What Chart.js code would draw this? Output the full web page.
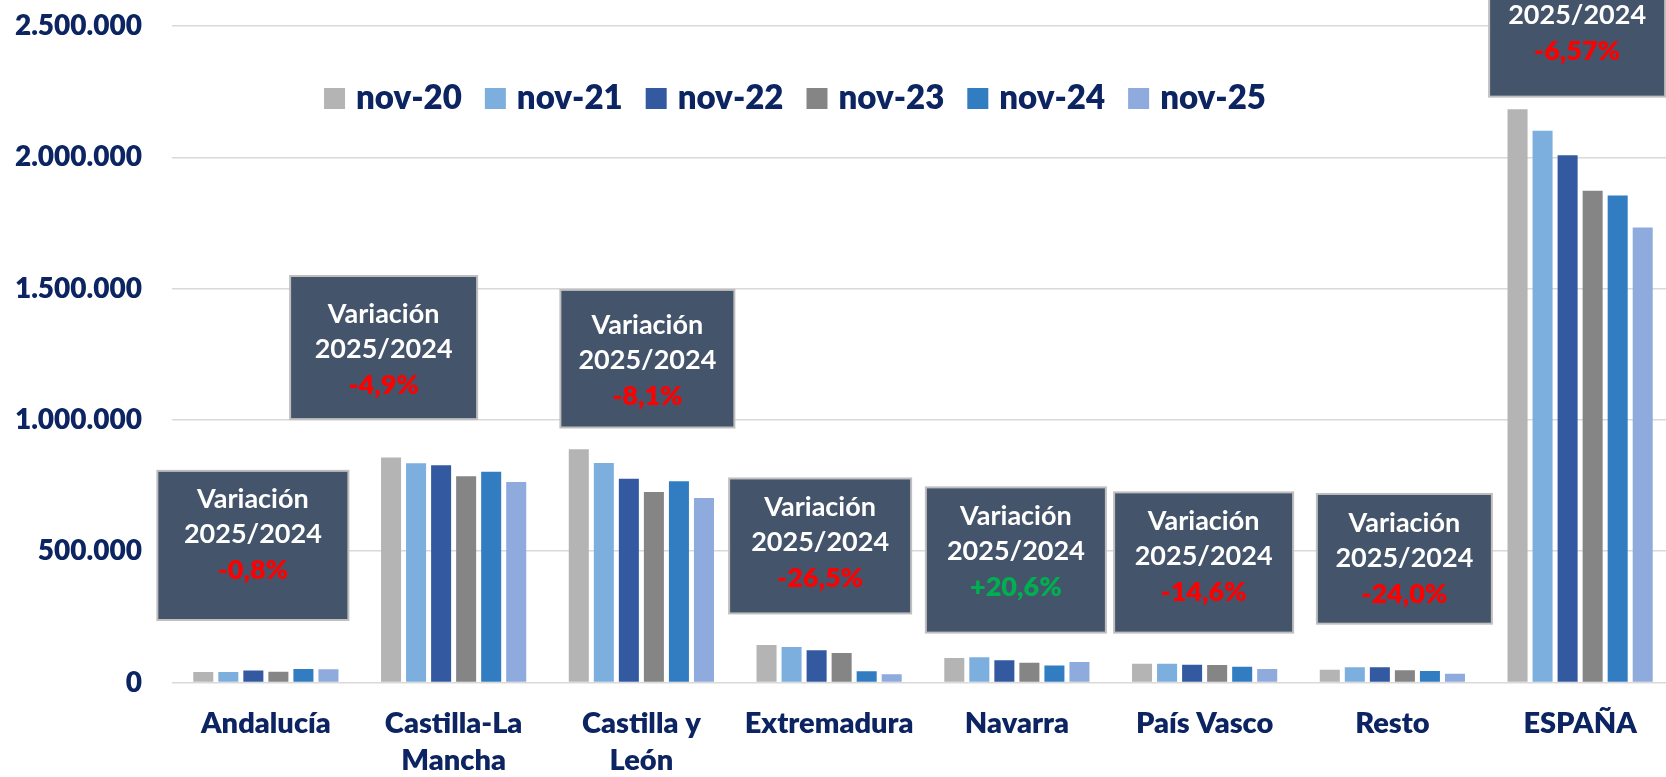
<!DOCTYPE html>
<html>
<head>
<meta charset="utf-8">
<script src="https://cdn.jsdelivr.net/npm/chart.js@4.4.1/dist/chart.umd.min.js"></script>
<style>
  html, body { margin: 0; padding: 0; background: #fff; overflow: hidden; }
  #wrap { width: 1674px; height: 777px; position: relative; }
</style>
</head>
<body>
<div id="wrap"><canvas id="chart"></canvas></div>
<script>
// categories and series
const categories = [
  ["Andalucía"], ["Castilla-La", "Mancha"], ["Castilla y", "León"], ["Extremadura"],
  ["Navarra"], ["País Vasco"], ["Resto"], ["ESPAÑA"]
];
const seriesLabels = ["nov-20", "nov-21", "nov-22", "nov-23", "nov-24", "nov-25"];
const nov20 = [40000, 857000, 888000, 143000, 93000, 71500, 49000, 2183000];
const nov21 = [40000, 835000, 836000, 135000, 96000, 71000, 58000, 2101000];
const nov22 = [46000, 827000, 776000, 122500, 84500, 68000, 58000, 2008000];
const nov23 = [41000, 785000, 725000, 112000, 75000, 66500, 46500, 1873000];
const nov24 = [51000, 803000, 766000, 42500, 64500, 60000, 44000, 1855000];
const nov25 = [50500, 763500, 703000, 31000, 78000, 51500, 33500, 1733000];
const variations = ["-0,8%", "-4,9%", "-8,1%", "-26,5%", "+20,6%", "-14,6%", "-24,0%", "-6,57%"];
const yTicks = [0, 500000, 1000000, 1500000, 2000000, 2500000];

const colors = ["#B4B4B4", "#7DAFDE", "#335AA1", "#858585", "#327DC2", "#8FAADC"];
const navy = "#0C2461";
const heavy = "800";

// box layout: dx px from category centre, top / bottom in axis units, width px, first text line offset
const boxLayout = [
  { dx: -13, top: 806000, bottom: 238000, w: 191, t: 28 },
  { dx: -70, top: 1548000, bottom: 1003000, w: 187, t: 38 },
  { dx: 6, top: 1495000, bottom: 971000, w: 174, t: 35 },
  { dx: -9, top: 777000, bottom: 263000, w: 182, t: 29 },
  { dx: -1, top: 743000, bottom: 190000, w: 180, t: 29 },
  { dx: -1, top: 724000, bottom: 190000, w: 179, t: 29 },
  { dx: 12, top: 718000, bottom: 224000, w: 175, t: 29 },
  { dx: -3, top: 2786000, bottom: 2231000, w: 176, t: 29 }
];

function fmt(v) {
  return String(v).replace(/\B(?=(\d{3})+(?!\d))/g, ".");
}

const boxesPlugin = {
  id: "boxes",
  afterDatasetsDraw(chart) {
    const ctx = chart.ctx;
    const x = chart.scales.x, y = chart.scales.y;
    ctx.save();
    boxLayout.forEach((b, i) => {
      const cx = x.getPixelForValue(i) + b.dx;
      const top = y.getPixelForValue(b.top);
      const bottom = y.getPixelForValue(b.bottom);
      const left = cx - b.w / 2;
      ctx.fillStyle = "#44546A";
      ctx.fillRect(left, top, b.w, bottom - top);
      ctx.strokeStyle = "#BFBFBF";
      ctx.lineWidth = 2;
      ctx.strokeRect(left, top, b.w, bottom - top);
      ctx.textAlign = "center";
      ctx.textBaseline = "middle";
      ctx.font = "bold 27px Lato";
      ctx.fillStyle = "#FFFFFF";
      ctx.fillText("Variación", cx, top + b.t);
      ctx.fillText("2025/2024", cx, top + b.t + 35);
      const v = variations[i];
      ctx.fillStyle = v.startsWith("+") ? "#00B050" : "#FF0000";
      ctx.font = heavy + " 27px Lato";
      ctx.fillText(v, cx, top + b.t + 71);
    });
    ctx.restore();
  }
};

const legendPlugin = {
  id: "customLegend",
  afterDraw(chart) {
    const ctx = chart.ctx;
    ctx.save();
    ctx.font = heavy + " 33px Lato";
    const widths = chart.data.datasets.map((d) => 21 + 11 + ctx.measureText(d.label).width);
    const gap = 23;
    const total = widths.reduce((a, b) => a + b, 0) + gap * (widths.length - 1);
    let xPos = 795 - total / 2;
    const base = 109;
    chart.data.datasets.forEach((d, i) => {
      ctx.fillStyle = d.backgroundColor;
      ctx.fillRect(xPos, base - 21, 21, 21);
      ctx.fillStyle = navy;
      ctx.textAlign = "left";
      ctx.textBaseline = "alphabetic";
      ctx.fillText(d.label, xPos + 32, base);
      xPos += widths[i] + gap;
    });
    ctx.restore();
  }
};

function initChart() {
  const allSeries = [nov20, nov21, nov22, nov23, nov24, nov25];
  const ctx = document.getElementById("chart").getContext("2d");
  new Chart(ctx, {
    type: "bar",
    data: {
      labels: categories,
      datasets: allSeries.map((s, i) => ({
        label: seriesLabels[i],
        data: s,
        backgroundColor: colors[i],
        categoryPercentage: 0.8,
        barPercentage: 0.8
      }))
    },
    options: {
      responsive: true,
      maintainAspectRatio: false,
      animation: false,
      layout: { padding: { top: 26, left: 0, right: 0, bottom: 0 } },
      plugins: {
        legend: { display: false },
        tooltip: { enabled: false }
      },
      scales: {
        x: {
          grid: { display: false, drawTicks: false },
          border: { display: false },
          ticks: {
            color: navy,
            font: { family: "Lato", size: 29, weight: heavy, lineHeight: 1.3 },
            padding: 22,
            maxRotation: 0,
            autoSkip: false
          },
          afterFit(scale) {
            scale.height = 94.5;
            scale.paddingLeft = 0;
            scale.paddingRight = 0;
          }
        },
        y: {
          min: 0,
          max: 2500000,
          afterBuildTicks(scale) { scale.ticks = yTicks.map((v) => ({ value: v })); },
          grid: { color: "#D9D9D9", lineWidth: 1.5, drawTicks: false },
          border: { display: false },
          ticks: {
            color: navy,
            font: { family: "Lato", size: 28, weight: heavy },
            padding: 30,
            callback: (v) => fmt(v)
          },
          afterFit(scale) {
            scale.width = 172;
            scale.paddingTop = 0;
            scale.paddingBottom = 0;
          }
        }
      }
    },
    plugins: [boxesPlugin, legendPlugin]
  });
}

Promise.all([
  document.fonts.load("bold 27px Lato"),
  document.fonts.load("800 27px Lato")
]).then(initChart, initChart);
</script>
</body>
</html>
